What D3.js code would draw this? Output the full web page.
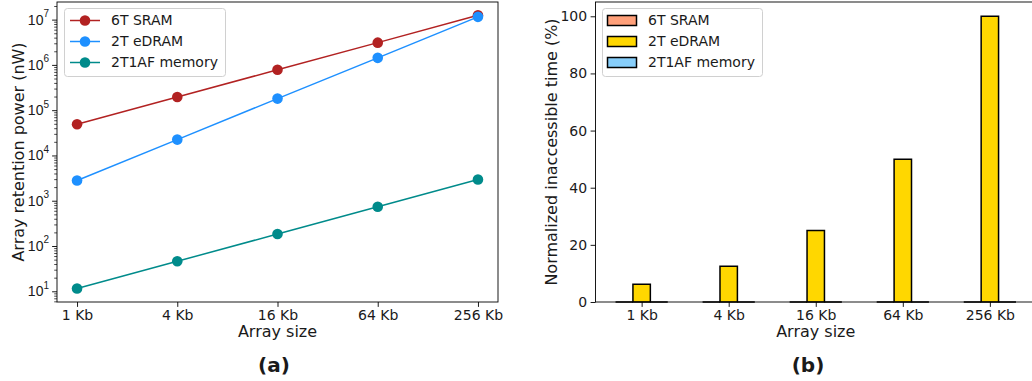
<!DOCTYPE html>
<html>
<head>
<meta charset="utf-8">
<script src="https://cdn.jsdelivr.net/npm/d3@7"></script>
<style>
  html, body { margin: 0; padding: 0; background: #fff; }
  svg { display: block; font-family: "DejaVu Sans", sans-serif; }
</style>
</head>
<body>
<svg id="chart" width="1032" height="381"></svg>
<script>
// ---------- data ----------
const categories = ["1 Kb", "4 Kb", "16 Kb", "64 Kb", "256 Kb"];
const seriesNames = ["6T SRAM", "2T eDRAM", "2T1AF memory"];
const powerSRAM = [49000, 195000, 780000, 3100000, 12500000];
const powerEDRAM = [2800, 22400, 180000, 1430000, 11500000];
const power2T1AF = [11.5, 46, 184, 736, 2940];
const inaccSRAM = [0, 0, 0, 0, 0];
const inaccEDRAM = [6.25, 12.5, 25, 50, 100];
const inacc2T1AF = [0, 0, 0, 0, 0];
const logTickExps = [1, 2, 3, 4, 5, 6, 7];
const linTicks = [0, 20, 40, 60, 80, 100];

const lineColors = ["#b22222", "#1e90ff", "#008b8b"];
const barColors = ["#ffa07a", "#ffd700", "#87cefa"];

const svg = d3.select("#chart");
const txt = "#1a1a1a";

// ---------- panel (a) ----------
const A = { l: 57, r: 498, t: 2, b: 302 };
const xa = d3.scaleLinear().domain([-0.2, 4.2]).range([A.l, A.r]);
const ya = d3.scaleLog().domain([5.8, 2.45e7]).range([A.b, A.t]);
const ga = svg.append("g");

// minor ticks
const minor = [];
for (let e = 0; e <= 7; e++) for (let m = 2; m <= 9; m++) {
  const v = m * Math.pow(10, e);
  if (v >= 5.8 && v <= 2.45e7) minor.push(v);
}
ga.append("g").attr("transform", `translate(${A.l},0)`)
  .call(d3.axisLeft(ya).tickValues(minor).tickSize(2.8).tickFormat(""))
  .call(g => g.select(".domain").remove())
  .call(g => g.selectAll("line").attr("stroke", "#000").attr("stroke-width", 0.7));

const yAxA = ga.append("g").attr("transform", `translate(${A.l},0)`)
  .call(d3.axisLeft(ya).tickValues(logTickExps.map(e => Math.pow(10, e))).tickSize(4.9).tickPadding(3.5).tickFormat(""))
  .call(g => g.select(".domain").remove())
  .call(g => g.selectAll("line").attr("stroke", "#000").attr("stroke-width", 0.9));
yAxA.selectAll(".tick").each(function(d) {
  const t = d3.select(this).append("text")
    .attr("x", -8).attr("dy", "0.32em").attr("text-anchor", "end")
    .attr("fill", txt).attr("font-size", 14);
  t.append("tspan").text("10");
  t.append("tspan").attr("font-size", 10).attr("dy", "-0.75em").text(Math.round(Math.log10(d)));
});

ga.append("g").attr("transform", `translate(0,${A.b})`)
  .call(d3.axisBottom(xa).tickValues(d3.range(categories.length)).tickSize(4.9).tickPadding(3.5).tickFormat(i => categories[i]))
  .call(g => g.select(".domain").remove())
  .call(g => g.selectAll("line").attr("stroke", "#000").attr("stroke-width", 0.9))
  .call(g => g.selectAll("text").attr("font-size", 14).attr("fill", txt).attr("font-family", "DejaVu Sans"));

const seriesA = [powerSRAM, powerEDRAM, power2T1AF];
const line = d3.line().x((d, i) => xa(i)).y(d => ya(d));
seriesA.forEach((s, k) => {
  ga.append("path").datum(s).attr("d", line).attr("fill", "none")
    .attr("stroke", lineColors[k]).attr("stroke-width", 1.5);
  ga.selectAll(null).data(s).enter().append("circle")
    .attr("cx", (d, i) => xa(i)).attr("cy", d => ya(d)).attr("r", 5.3)
    .attr("fill", lineColors[k]);
});

ga.append("rect").attr("x", A.l).attr("y", A.t).attr("width", A.r - A.l).attr("height", A.b - A.t)
  .attr("fill", "none").attr("stroke", "#000").attr("stroke-width", 0.9);

// legend (a)
const la = ga.append("g");
la.append("rect").attr("x", 64.5).attr("y", 8.5).attr("width", 161).attr("height", 68)
  .attr("rx", 3).attr("fill", "#fff").attr("fill-opacity", 0.8).attr("stroke", "#d0d0d0");
seriesNames.forEach((n, k) => {
  const yy = 20.5 + k * 21;
  la.append("line").attr("x1", 70).attr("x2", 100).attr("y1", yy).attr("y2", yy)
    .attr("stroke", lineColors[k]).attr("stroke-width", 1.5);
  la.append("circle").attr("cx", 85).attr("cy", yy).attr("r", 5.3).attr("fill", lineColors[k]);
  la.append("text").attr("x", 111).attr("y", yy).attr("dy", "0.35em")
    .attr("font-size", 14).attr("fill", txt).text(n);
});

ga.append("text").attr("x", (A.l + A.r) / 2).attr("y", 337).attr("text-anchor", "middle")
  .attr("font-size", 16).attr("fill", txt).text("Array size");
ga.append("text").attr("transform", `translate(24,${(A.t + A.b) / 2}) rotate(-90)`)
  .attr("text-anchor", "middle").attr("font-size", 16).attr("fill", txt).text("Array retention power (nW)");
ga.append("text").attr("x", 274).attr("y", 372).attr("text-anchor", "middle")
  .attr("font-size", 20).attr("font-weight", "bold").attr("fill", txt).text("(a)");

// ---------- panel (b) ----------
const B = { l: 595.5, r: 1036, t: 2, b: 302 };
const xb = d3.scaleLinear().domain([-0.53, 4.53]).range([B.l, B.r]);
const yb = d3.scaleLinear().domain([0, 105]).range([B.b, B.t]);
const gb = svg.append("g");

gb.append("g").attr("transform", `translate(${B.l},0)`)
  .call(d3.axisLeft(yb).tickValues(linTicks).tickSize(4.9).tickPadding(3.5))
  .call(g => g.select(".domain").remove())
  .call(g => g.selectAll("line").attr("stroke", "#000").attr("stroke-width", 0.9))
  .call(g => g.selectAll("text").attr("font-size", 14).attr("fill", txt).attr("font-family", "DejaVu Sans"));

gb.append("g").attr("transform", `translate(0,${B.b})`)
  .call(d3.axisBottom(xb).tickValues(d3.range(categories.length)).tickSize(4.9).tickPadding(3.5).tickFormat(i => categories[i]))
  .call(g => g.select(".domain").remove())
  .call(g => g.selectAll("line").attr("stroke", "#000").attr("stroke-width", 0.9))
  .call(g => g.selectAll("text").attr("font-size", 14).attr("fill", txt).attr("font-family", "DejaVu Sans"));

const seriesB = [inaccSRAM, inaccEDRAM, inacc2T1AF];
const bw = 0.2;
seriesB.forEach((s, k) => {
  const off = (k - 1) * bw;
  gb.selectAll(null).data(s).enter().append("path")
    .attr("d", (d, i) => {
      const x0 = xb(i + off - bw / 2), w = xb(bw) - xb(0);
      const y0 = yb(0), h = yb(0) - yb(d);
      return `M${x0},${y0}h${w}v${-h}h${-w}Z`;
    })
    .attr("fill", barColors[k]).attr("stroke", "#000").attr("stroke-width", 1.5);
});

gb.append("rect").attr("x", B.l).attr("y", B.t).attr("width", B.r - B.l).attr("height", B.b - B.t)
  .attr("fill", "none").attr("stroke", "#000").attr("stroke-width", 0.9);

const lb = gb.append("g");
lb.append("rect").attr("x", 602.5).attr("y", 8.5).attr("width", 160).attr("height", 68)
  .attr("rx", 3).attr("fill", "#fff").attr("fill-opacity", 0.8).attr("stroke", "#d0d0d0");
seriesNames.forEach((n, k) => {
  const yy = 20.5 + k * 21;
  lb.append("rect").attr("x", 607.5).attr("y", yy - 5).attr("width", 29).attr("height", 10)
    .attr("fill", barColors[k]).attr("stroke", "#000").attr("stroke-width", 1.5);
  lb.append("text").attr("x", 648).attr("y", yy).attr("dy", "0.35em")
    .attr("font-size", 14).attr("fill", txt).text(n);
});

gb.append("text").attr("x", (B.l + B.r) / 2).attr("y", 337).attr("text-anchor", "middle")
  .attr("font-size", 16).attr("fill", txt).text("Array size");
gb.append("text").attr("transform", `translate(557,${(B.t + B.b) / 2}) rotate(-90)`)
  .attr("text-anchor", "middle").attr("font-size", 16).attr("fill", txt).text("Normalized inaccessible time (%)");
gb.append("text").attr("x", 808).attr("y", 372).attr("text-anchor", "middle")
  .attr("font-size", 20).attr("font-weight", "bold").attr("fill", txt).text("(b)");
</script>
</body>
</html>
